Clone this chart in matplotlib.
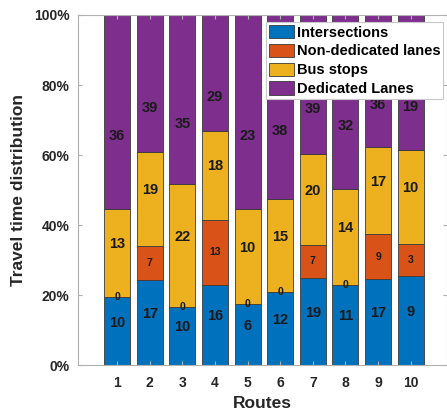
import matplotlib
matplotlib.use('Agg')

import numpy as np
from matplotlib import pyplot

routes = ['1', '2', '3', '4', '5', '6', '7', '8', '9', '10']
series = ['Intersections', 'Non-dedicated lanes', 'Bus stops', 'Dedicated Lanes']

# share of travel time (%) per route
intersections_pct = [19.3, 24.2, 16.7, 22.9, 17.4, 20.9, 25.0, 22.9, 24.6, 25.4]
nondedicated_pct = [0.0, 9.9, 0.0, 18.6, 0.0, 0.0, 9.2, 0.0, 12.8, 9.3]
busstops_pct = [25.3, 26.7, 34.9, 25.5, 27.2, 26.6, 26.2, 27.5, 24.9, 26.7]
dedicated_pct = [55.4, 39.2, 48.4, 33.0, 55.4, 52.5, 39.6, 49.6, 37.7, 38.6]

# numbers printed on the segments
intersections_lbl = [10, 17, 10, 16, 6, 12, 19, 11, 17, 9]
nondedicated_lbl = [0, 7, 0, 13, 0, 0, 7, 0, 9, 3]
busstops_lbl = [13, 19, 22, 18, 10, 15, 20, 14, 17, 10]
dedicated_lbl = [36, 39, 35, 29, 23, 38, 39, 32, 36, 19]

colors = ['#0072BD', '#D95319', '#EDB120', '#7E2F8E']
label_size = [10.5, 7.5, 10.5, 10.5]
label_shift = [2.5, 0.0, 2.5, -7.0]

pyplot.rcParams['font.family'] = ['Liberation Sans', 'DejaVu Sans']

fig = pyplot.figure(figsize=(4.47, 4.12), dpi=100)
ax = fig.add_axes([0.1745, 0.114, 0.8245, 0.8496])

x = np.arange(1, len(routes) + 1)
values = [intersections_pct, nondedicated_pct, busstops_pct, dedicated_pct]
labels = [intersections_lbl, nondedicated_lbl, busstops_lbl, dedicated_lbl]

bottom = np.zeros(len(routes))
for name, vals, lbls, c, fs, dy in zip(series, values, labels, colors, label_size, label_shift):
    vals = np.array(vals)
    ax.bar(x, vals, width=0.8, bottom=bottom, color=c, edgecolor='#3a3a3a',
           linewidth=0.6, label=name)
    for xi, b, v, t in zip(x, bottom, vals, lbls):
        ax.text(xi, b + v / 2 + dy, str(t), ha='center', va='center',
                fontsize=fs, fontweight='bold', color='#1a1a1a')
    bottom += vals

ax.set_xlim(-0.2, 11.1)
ax.set_ylim(0, 100)
ax.set_xticks(x)
ax.set_xticklabels(routes)
ax.set_yticks([0, 20, 40, 60, 80, 100])
ax.set_yticklabels(['0%', '20%', '40%', '60%', '80%', '100%'])

for s in ax.spines.values():
    s.set_color('#b0b0b0')
    s.set_linewidth(0.8)
ax.tick_params(direction='in', length=3, color='#b0b0b0', top=True, right=True,
               labelsize=10)
ax.tick_params(axis='x', pad=8)
ax.tick_params(axis='y', pad=6)
for lab in ax.get_xticklabels() + ax.get_yticklabels():
    lab.set_fontweight('bold')
    lab.set_color('#262626')

ax.set_xlabel('Routes', fontsize=12.5, fontweight='bold', color='#262626', labelpad=4)
ax.set_ylabel('Travel time distribution', fontsize=12.5, fontweight='bold',
              color='#262626', labelpad=6)

leg = ax.legend(loc='upper left', bbox_to_anchor=(0.51, 0.98),
                prop={'weight': 'bold', 'size': 10.5}, handlelength=1.75,
                handleheight=1.05, handletextpad=0.15, labelspacing=0.28,
                borderpad=0.2, borderaxespad=0, fancybox=False, framealpha=1)
leg.get_frame().set_edgecolor('#c8c8c8')
leg.get_frame().set_linewidth(0.8)

pyplot.savefig('out.png', dpi=100)
